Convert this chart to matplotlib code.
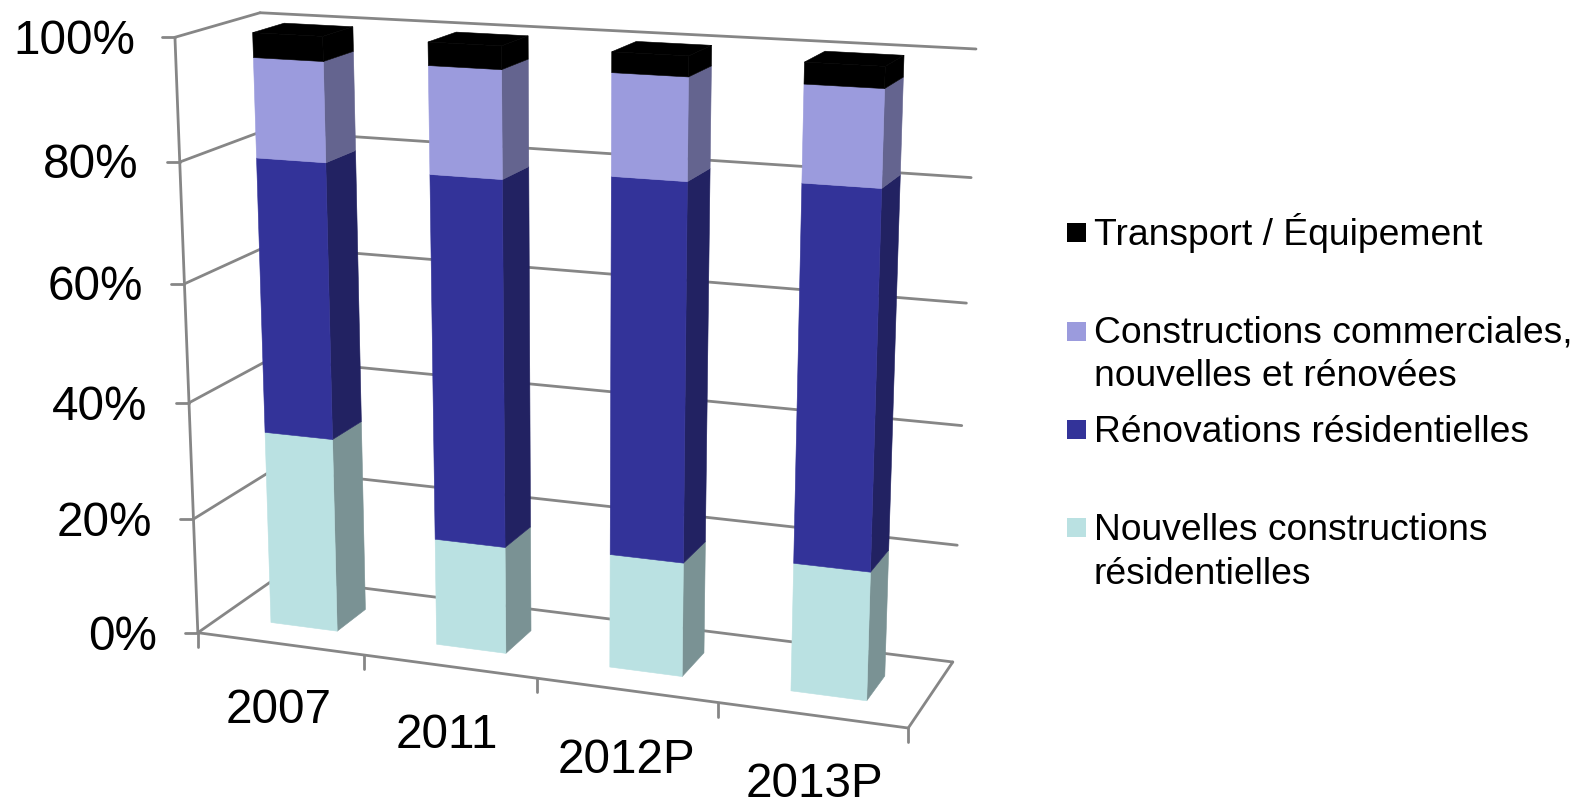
import numpy as np
import matplotlib
matplotlib.use("Agg")
import matplotlib.pyplot as plt
from matplotlib.transforms import Transform

plt.rcParams['font.family'] = ['Liberation Sans', 'DejaVu Sans']

# ---------- data ----------
categories = ['2007', '2011', '2012P', '2013P']
nouvelles_res = [33.5, 18.3, 19.2, 21.3]
renovations = [46.2, 60.7, 61.5, 60.4]
commerciales = [16.3, 17.3, 16.1, 15.0]
transport = [4.0, 3.7, 3.2, 3.3]
pct_ticks = [0, 20, 40, 60, 80, 100]
pct_labels = ['0%', '20%', '40%', '60%', '80%', '100%']

series = [nouvelles_res, renovations, commerciales, transport]
front_cols = ['#BAE1E2', '#333399', '#9B9BDD', '#000000']
side_cols = ['#7A9294', '#222262', '#64648F', '#000000']

GRID = '#868686'
BAR_W = 0.405
BAR_SHIFT = 0.008
D0, D1 = 0.29, 0.67

# ---------- perspective box: (category, percent, depth) -> pixels ----------
refs = [((0, 0, 0), (198, 633)), ((4, 0, 0), (908, 728)), ((4, 0, 1), (953, 662)),
        ((0, 0, 1), (277, 577)), ((0, 100, 0), (175, 37)), ((0, 100, 1), (260, 13)),
        ((4, 100, 1), (976, 49))]
A, b = [], []
for (x, y, z), (px, py) in refs:
    A.append([x, y, z, 1, 0, 0, 0, 0, -px * x, -px * y, -px * z]); b.append(px)
    A.append([0, 0, 0, 0, x, y, z, 1, -py * x, -py * y, -py * z]); b.append(py)
H = np.append(np.linalg.lstsq(np.array(A, float), np.array(b, float), rcond=None)[0], 1).reshape(3, 4)


class Persp(Transform):
    """Maps a 2D plane of the box to pixels; plane picks which of (cat, pct, depth) is fixed."""
    input_dims = output_dims = 2

    def __init__(self, plane, fixed):
        super().__init__()
        self.plane, self.fixed = plane, fixed

    def transform_non_affine(self, values):
        a, c = np.asarray(values, float).T
        f = np.full_like(a, self.fixed)
        xyz = {'front': (a, c, f), 'side': (f, c, a), 'top': (a, f, c)}[self.plane]
        p = H @ np.vstack([*xyz, np.ones_like(a)])
        return (p[:2] / p[2]).T


fig = plt.figure(figsize=(15.76, 8), dpi=100)
ax = fig.add_axes([0, 0, 1, 1])
ax.set_xlim(0, 1576)
ax.set_ylim(800, 0)
ax.axis('off')

def T(plane, fixed):
    return Persp(plane, fixed) + ax.transData

lk = dict(color=GRID, lw=2.0, solid_capstyle='round', zorder=1)
for p in pct_ticks:
    ax.plot([0, 4], [p, p], transform=T('front', 1), **lk)      # back wall
    ax.plot([0, 1], [p, p], transform=T('side', 0), **lk)       # left wall
ax.plot([0, 0], [0, 100], transform=T('front', 0), **lk)        # y axis
ax.plot([0, 4], [0, 0], transform=T('front', 0), **lk)          # floor front
ax.plot([0, 1], [0, 0], transform=T('side', 4), **lk)           # floor right

# ticks and labels
inv = ax.transData.inverted()
ylab_right = [157, 152, 147, 143, 139, 135]
ylab_y = [637, 523, 408, 288, 165, 41]
for p, lab, xr, yl in zip(pct_ticks, pct_labels, ylab_right, ylab_y):
    px, py = inv.transform(T('front', 0).transform((0, p)))
    ax.plot([px - 13, px], [py, py], **lk)
    ax.text(xr, yl, lab, ha='right', va='center', fontsize=34.3, color='black')
for k in range(5):
    px, py = inv.transform(T('front', 0).transform((k, 0)))
    ax.plot([px, px], [py, py + 14], **lk)
xlab_x = [279, 447, 626, 814]
xlab_base = [723, 748, 773, 797]
for lab, xx, yy in zip(categories, xlab_x, xlab_base):
    ax.text(xx, yy, lab, ha='center', va='baseline', fontsize=34.3, color='black')

# bars: each face is a real bar in its own projected plane
x = np.arange(len(categories)) + 0.5 + BAR_SHIFT
for i in range(len(categories)):
    z = 3 + i
    base = 0.0
    for vals, fc, sc in zip(series, front_cols, side_cols):
        v = vals[i]
        ax.bar([(D0 + D1) / 2], [v], width=D1 - D0, bottom=base, color=sc, edgecolor=sc, lw=0.4,
               transform=T('side', x[i] + BAR_W / 2), zorder=z)
        ax.bar([x[i]], [v], width=BAR_W, bottom=base, color=fc, edgecolor=fc, lw=0.4,
               transform=T('front', D0), zorder=z)
        base += v
    ax.bar([x[i]], [D1 - D0], width=BAR_W, bottom=D0, color=front_cols[-1],
           edgecolor=front_cols[-1], lw=0.4, transform=T('top', base), zorder=z)

# legend
leg_y = [232, 331, 429, 527]
leg_text_dy = [1, 2, 4, 4]
leg_labels = [['Transport / Équipement'],
              ['Constructions commerciales,', 'nouvelles et rénovées'],
              ['Rénovations résidentielles'],
              ['Nouvelles constructions', 'résidentielles']]
for yy, dy, labs, col in zip(leg_y, leg_text_dy, leg_labels, front_cols[::-1]):
    ax.scatter([1076.5], [yy], marker='s', s=(19 * 0.72) ** 2, color=col, lw=0)
    for j, t in enumerate(labs):
        ax.text(1094, yy + dy + j * 43, t, ha='left', va='center', fontsize=26.8, color='black')

ax.set_xlim(0, 1576)
ax.set_ylim(800, 0)
fig.savefig('out.png', dpi=100, facecolor='white')
